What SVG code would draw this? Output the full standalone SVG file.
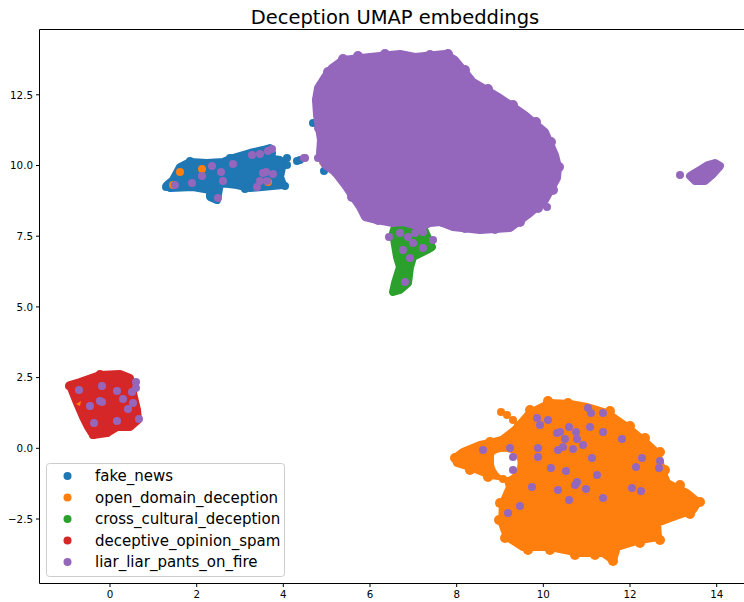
<svg xmlns="http://www.w3.org/2000/svg" width="744" height="602" viewBox="0 0 744 602">
<style>
text{font-family:"DejaVu Sans","Liberation Sans",sans-serif;fill:#000}
.tk{font-size:10.3px}
.b{fill:#1f77b4}.o{fill:#ff7f0e}.g{fill:#2ca02c}.r{fill:#d62728}.p{fill:#9467bd}
.bs{fill:#1f77b4;stroke:#1f77b4}.os{fill:#ff7f0e;stroke:#ff7f0e}.gs{fill:#2ca02c;stroke:#2ca02c}.rs{fill:#d62728;stroke:#d62728}.ps{fill:#9467bd;stroke:#9467bd}
.blob{stroke-width:8;stroke-linejoin:round}
.lg{font-size:15px}
</style>
<rect width="744" height="602" fill="#fff"/>
<text x="395" y="24" font-size="19.5" text-anchor="middle">Deception UMAP embeddings</text>

<g id="fake_news">
<path class="bs blob" d="M167,185 L173,180 L180,167 L190,162 L207,163 L223,162 L233,158 L250,153 L263,150 L270,148 L272,153 L267,158 L280,160 L283,163 L280,177 L283,185 L250,188 L237,185 L220,183 L217,200 L210,197 L210,190 L193,187 L170,188 Z"/>
<circle class="b" cx="287" cy="158" r="4"/><circle class="b" cx="297" cy="161" r="4"/><circle class="b" cx="287" cy="165" r="4"/><circle class="b" cx="285" cy="186" r="4"/><circle class="b" cx="166" cy="187" r="4"/><circle class="b" cx="190" cy="161" r="4"/><circle class="b" cx="230" cy="158" r="4"/><circle class="b" cx="245" cy="189" r="4"/>
<circle class="b" cx="313" cy="123" r="4"/><circle class="b" cx="324" cy="171" r="4"/><circle class="b" cx="300" cy="160" r="4"/><circle class="b" cx="443" cy="223" r="4"/><circle class="b" cx="408" cy="229" r="4"/>
</g>

<g id="open_domain_deception">
<path class="os blob" d="M455,458 L463,452 L480,445 L490,443 L502,440 L515,430 L530,413 L550,403 L570,404 L587,407 L607,413 L627,427 L643,440 L657,453 L663,473 L667,483 L687,493 L698,502 L693,510 L673,517 L657,523 L658,537 L640,540 L617,547 L613,560 L603,553 L580,553 L550,547 L523,547 L507,537 L502,523 L503,503 L510,487 L507,477 L490,475 L473,468 L457,463 Z"/>
<circle class="o" cx="455" cy="458" r="5"/><circle class="o" cx="470" cy="452" r="5"/><circle class="o" cx="490" cy="442" r="5"/><circle class="o" cx="530" cy="410" r="5"/><circle class="o" cx="548" cy="401" r="5"/><circle class="o" cx="568" cy="403" r="5"/><circle class="o" cx="610" cy="411" r="5"/><circle class="o" cx="630" cy="426" r="5"/><circle class="o" cx="645" cy="438" r="5"/><circle class="o" cx="660" cy="452" r="5"/><circle class="o" cx="665" cy="470" r="5"/><circle class="o" cx="680" cy="485" r="5"/><circle class="o" cx="700" cy="502" r="5"/><circle class="o" cx="690" cy="514" r="5"/><circle class="o" cx="660" cy="540" r="5"/><circle class="o" cx="640" cy="543" r="5"/><circle class="o" cx="613" cy="561" r="5"/><circle class="o" cx="595" cy="555" r="5"/><circle class="o" cx="575" cy="555" r="5"/><circle class="o" cx="550" cy="550" r="5"/><circle class="o" cx="528" cy="550" r="5"/><circle class="o" cx="505" cy="538" r="5"/><circle class="o" cx="499" cy="520" r="5"/><circle class="o" cx="500" cy="503" r="5"/><circle class="o" cx="488" cy="477" r="5"/><circle class="o" cx="470" cy="470" r="5"/>
<path d="M494,455 C500,450 512,451 516,457 C520,464 516,474 508,477 C500,478 495,470 494,464 Z" fill="#fff"/>
<circle class="o" cx="501" cy="412" r="4"/><circle class="o" cx="507" cy="415" r="4"/><circle class="o" cx="513" cy="420" r="4"/><circle class="o" cx="518" cy="425" r="4"/><circle class="o" cx="520" cy="432" r="4"/><circle class="o" cx="497" cy="445" r="4"/><circle class="o" cx="503" cy="479" r="4"/>
<circle class="o" cx="180" cy="172" r="4"/><circle class="o" cx="202" cy="169" r="4"/><circle class="o" cx="173" cy="185" r="4"/><circle class="o" cx="268" cy="182" r="4"/><circle class="o" cx="323" cy="162" r="4"/>
</g>

<g id="cross_cultural_deception">
<path class="gs blob" d="M397,220 L420,220 L432,247 L427,250 L413,257 L410,267 L408,283 L400,290 L393,292 L395,283 L400,267 L397,257 L393,233 Z"/>
</g>

<g id="deceptive_opinion_spam">
<path class="rs blob" d="M70,385 L80,382 L100,375 L120,374 L130,378 L133,393 L137,410 L138,420 L130,427 L117,427 L107,433 L93,435 L88,427 L83,417 L77,403 L73,393 Z"/>
<circle class="r" cx="69" cy="386" r="4"/><circle class="r" cx="100" cy="374" r="4"/><circle class="r" cx="93" cy="435" r="4"/><circle class="r" cx="107" cy="433" r="4"/>
<path d="M76,404 L81,401 L80,406 Z" fill="#ff7f0e"/>
</g>

<g id="liar_liar_pants_on_fire">
<path class="ps blob" d="M343,60 L370,57 L400,54 L415,57 L445,54 L455,60 L473,82 L500,98 L525,115 L545,132 L555,155 L558,167 L557,178 L545,200 L530,213 L510,228 L480,230 L453,227 L440,222 L430,223 L420,227 L403,222 L393,223 L377,220 L365,217 L360,207 L345,185 L335,172 L325,165 L320,153 L321,140 L317,115 L316,100 L318,88 L325,77 L332,68 Z"/>
<circle class="p" cx="343" cy="59" r="5"/><circle class="p" cx="358" cy="56" r="5"/><circle class="p" cx="385" cy="54" r="5"/><circle class="p" cx="430" cy="55" r="5"/><circle class="p" cx="448" cy="54" r="5"/><circle class="p" cx="465" cy="70" r="5"/><circle class="p" cx="488" cy="89" r="5"/><circle class="p" cx="513" cy="105" r="5"/><circle class="p" cx="536" cy="122" r="5"/><circle class="p" cx="551" cy="142" r="5"/><circle class="p" cx="559" cy="167" r="5"/><circle class="p" cx="553" cy="190" r="5"/><circle class="p" cx="538" cy="208" r="5"/><circle class="p" cx="520" cy="222" r="5"/><circle class="p" cx="495" cy="229" r="5"/><circle class="p" cx="465" cy="228" r="5"/><circle class="p" cx="378" cy="220" r="5"/><circle class="p" cx="352" cy="197" r="5"/><circle class="p" cx="336" cy="172" r="5"/><circle class="p" cx="319" cy="128" r="5"/><circle class="p" cx="317" cy="100" r="5"/><circle class="p" cx="328" cy="72" r="5"/>
<circle class="p" cx="305" cy="158" r="4"/><circle class="p" cx="318" cy="158" r="4"/><circle class="p" cx="547" cy="207" r="4"/><circle class="p" cx="543" cy="204" r="4"/><circle class="p" cx="523" cy="125" r="4"/>
<circle class="p" cx="389" cy="237" r="4"/><circle class="p" cx="400" cy="233" r="4"/><circle class="p" cx="408" cy="237" r="4"/><circle class="p" cx="415" cy="233" r="4"/><circle class="p" cx="423" cy="232" r="4"/><circle class="p" cx="433" cy="240" r="4"/><circle class="p" cx="413" cy="243" r="4"/><circle class="p" cx="423" cy="248" r="4"/><circle class="p" cx="403" cy="250" r="4"/><circle class="p" cx="410" cy="258" r="4"/><circle class="p" cx="405" cy="282" r="4"/>
<circle class="p" cx="175" cy="185" r="4"/><circle class="p" cx="192" cy="183" r="4"/><circle class="p" cx="202" cy="176" r="4"/><circle class="p" cx="212" cy="166" r="4"/><circle class="p" cx="221" cy="172" r="4"/><circle class="p" cx="223" cy="181" r="4"/><circle class="p" cx="233" cy="164" r="4"/><circle class="p" cx="257" cy="187" r="4"/><circle class="p" cx="260" cy="181" r="4"/><circle class="p" cx="267" cy="181" r="4"/><circle class="p" cx="263" cy="173" r="4"/><circle class="p" cx="273" cy="174" r="4"/><circle class="p" cx="252" cy="155" r="4"/><circle class="p" cx="260" cy="154" r="4"/><circle class="p" cx="268" cy="151" r="4"/><circle class="p" cx="272" cy="149" r="4"/><circle class="p" cx="304" cy="158" r="4"/><circle class="p" cx="218" cy="198" r="4"/><circle class="p" cx="266" cy="172" r="4"/>
<circle class="p" cx="79" cy="390" r="4"/><circle class="p" cx="102" cy="386" r="4"/><circle class="p" cx="117" cy="391" r="4"/><circle class="p" cx="123" cy="399" r="4"/><circle class="p" cx="133" cy="403" r="4"/><circle class="p" cx="128" cy="409" r="4"/><circle class="p" cx="132" cy="392" r="4"/><circle class="p" cx="136" cy="388" r="4"/><circle class="p" cx="136" cy="382" r="4"/><circle class="p" cx="139" cy="419" r="4"/><circle class="p" cx="117" cy="421" r="4"/><circle class="p" cx="94" cy="423" r="4"/><circle class="p" cx="90" cy="406" r="4"/><circle class="p" cx="100" cy="401" r="4"/><circle class="p" cx="102" cy="402" r="4"/>
<circle class="p" cx="483" cy="450" r="4"/><circle class="p" cx="513" cy="470" r="4"/><circle class="p" cx="508" cy="513" r="4"/><circle class="p" cx="520" cy="506" r="4"/><circle class="p" cx="532" cy="487" r="4"/><circle class="p" cx="538" cy="457" r="4"/><circle class="p" cx="538" cy="448" r="4"/><circle class="p" cx="537" cy="418" r="4"/><circle class="p" cx="540" cy="425" r="4"/><circle class="p" cx="548" cy="420" r="4"/><circle class="p" cx="557" cy="433" r="4"/><circle class="p" cx="560" cy="432" r="4"/><circle class="p" cx="569" cy="427" r="4"/><circle class="p" cx="576" cy="432" r="4"/><circle class="p" cx="565" cy="439" r="4"/><circle class="p" cx="577" cy="439" r="4"/><circle class="p" cx="558" cy="450" r="4"/><circle class="p" cx="563" cy="447" r="4"/><circle class="p" cx="573" cy="449" r="4"/><circle class="p" cx="583" cy="445" r="4"/><circle class="p" cx="588" cy="408" r="4"/><circle class="p" cx="591" cy="413" r="4"/><circle class="p" cx="603" cy="413" r="4"/><circle class="p" cx="590" cy="427" r="4"/><circle class="p" cx="603" cy="432" r="4"/><circle class="p" cx="622" cy="439" r="4"/><circle class="p" cx="592" cy="458" r="4"/><circle class="p" cx="551" cy="468" r="4"/><circle class="p" cx="566" cy="471" r="4"/><circle class="p" cx="597" cy="475" r="4"/><circle class="p" cx="577" cy="482" r="4"/><circle class="p" cx="575" cy="485" r="4"/><circle class="p" cx="586" cy="489" r="4"/><circle class="p" cx="558" cy="490" r="4"/><circle class="p" cx="569" cy="500" r="4"/><circle class="p" cx="603" cy="498" r="4"/><circle class="p" cx="513" cy="457" r="4"/><circle class="p" cx="510" cy="448" r="4"/><circle class="p" cx="642" cy="458" r="4"/><circle class="p" cx="636" cy="467" r="4"/><circle class="p" cx="660" cy="461" r="4"/><circle class="p" cx="659" cy="468" r="4"/><circle class="p" cx="632" cy="488" r="4"/><circle class="p" cx="641" cy="491" r="4"/>
<path class="ps blob" d="M690,176 L700,170 L708,165 L715,163 L720,166 L712,175 L705,181 L695,181 Z"/>
<circle class="p" cx="680" cy="175" r="4"/>
</g>

<g id="axes" stroke="#000" stroke-width="1" fill="none">
<path d="M39.5,583.5 V29.5 H744 M39.5,583.5 H744"/>
<path d="M36,94.8 H39.5 M36,165.5 H39.5 M36,236.2 H39.5 M36,306.9 H39.5 M36,377.6 H39.5 M36,448.3 H39.5 M36,519 H39.5"/>
<path d="M110,583.5 V587 M196.7,583.5 V587 M283.3,583.5 V587 M370,583.5 V587 M456.7,583.5 V587 M543.3,583.5 V587 M630,583.5 V587 M716.7,583.5 V587"/>
</g>
<g id="ticklabels" class="tk">
<text x="33" y="98.5" text-anchor="end">12.5</text>
<text x="33" y="169.2" text-anchor="end">10.0</text>
<text x="33" y="239.9" text-anchor="end">7.5</text>
<text x="33" y="310.6" text-anchor="end">5.0</text>
<text x="33" y="381.3" text-anchor="end">2.5</text>
<text x="33" y="452" text-anchor="end">0.0</text>
<text x="33" y="522.7" text-anchor="end">−2.5</text>
<text x="110" y="598" text-anchor="middle">0</text>
<text x="196.7" y="598" text-anchor="middle">2</text>
<text x="283.3" y="598" text-anchor="middle">4</text>
<text x="370" y="598" text-anchor="middle">6</text>
<text x="456.7" y="598" text-anchor="middle">8</text>
<text x="543.3" y="598" text-anchor="middle">10</text>
<text x="630" y="598" text-anchor="middle">12</text>
<text x="716.7" y="598" text-anchor="middle">14</text>
</g>

<g id="legend">
<rect x="46.5" y="463.5" width="238" height="113" rx="3" fill="#fff" fill-opacity="0.8" stroke="#ccc"/>
<circle class="b" cx="67.5" cy="476" r="4"/><text class="lg" x="95" y="481">fake_news</text>
<circle class="o" cx="67.5" cy="497.5" r="4"/><text class="lg" x="95" y="502.5">open_domain_deception</text>
<circle class="g" cx="67.5" cy="519" r="4"/><text class="lg" x="95" y="524">cross_cultural_deception</text>
<circle class="r" cx="67.5" cy="540.5" r="4"/><text class="lg" x="95" y="545.5">deceptive_opinion_spam</text>
<circle class="p" cx="67.5" cy="562" r="4"/><text class="lg" x="95" y="567">liar_liar_pants_on_fire</text>
</g>
</svg>
